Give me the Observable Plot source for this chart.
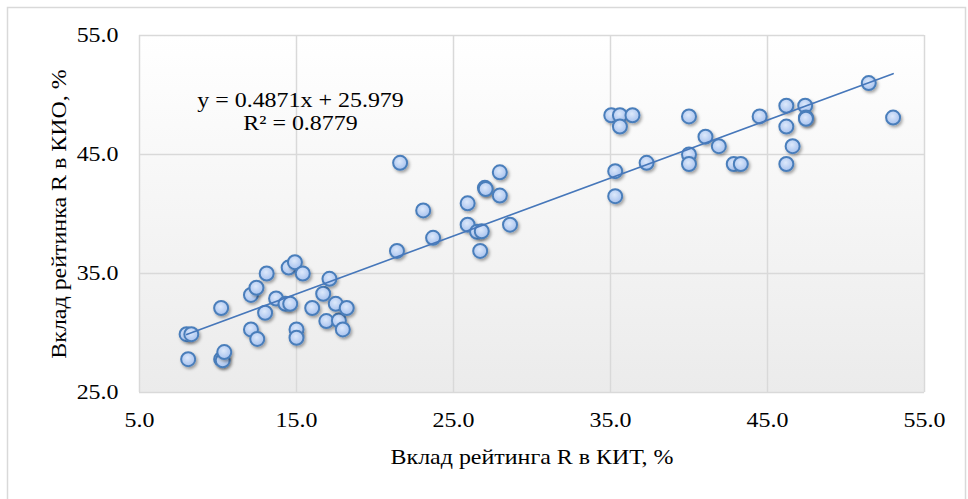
<!DOCTYPE html>
<html>
<head>
<meta charset="utf-8">
<script src="https://cdn.jsdelivr.net/npm/d3@7"></script>
<script src="https://cdn.jsdelivr.net/npm/@observablehq/plot@0.6"></script>
<style>
  html, body { margin: 0; padding: 0; background: #fff; }
  #chart svg { display: block; }
</style>
</head>
<body>
<div id="chart"></div>
<script>
// Contribution of rating R to KIT, % (x)
const kitValues = [
  8.0, 8.3, 8.1, 10.2, 10.3, 10.4, 10.2, 12.1, 12.45, 13.1,
  13.0, 12.1, 12.5, 13.7, 14.3, 14.6, 14.5, 14.9, 15.4, 15.0,
  15.0, 16.0, 16.7, 17.1, 16.9, 17.7, 17.95, 17.5, 18.2,
  21.6, 23.07, 21.4, 23.7, 27.95, 27.0, 27.05, 27.95, 25.9, 25.9,
  28.6, 26.5, 26.8, 26.7,
  35.05, 35.6, 36.4, 35.6, 40.0, 44.5, 41.05, 41.9, 40.0, 40.0,
  42.85, 43.3, 37.3, 35.3, 35.3, 46.2, 47.4, 47.45, 47.45, 46.2,
  46.6, 46.2, 51.45, 53.0
];
// Contribution of rating R to KIO, % (y)
const kioValues = [
  29.9, 29.9, 27.8, 27.8, 27.7, 28.4, 32.1, 33.2, 33.8, 35.0,
  31.7, 30.3, 29.5, 32.9, 32.45, 32.45, 35.5, 35.95, 35.0, 30.3,
  29.6, 32.1, 33.3, 34.55, 31.0, 31.05, 30.3, 32.45, 32.1,
  44.3, 40.3, 36.9, 38.0, 43.5, 42.2, 42.1, 41.55, 40.9, 39.1,
  39.1, 38.5, 38.55, 36.9,
  48.3, 48.3, 48.3, 47.35, 48.2, 48.2, 46.5, 45.7, 45.0, 44.2,
  44.2, 44.2, 44.3, 43.6, 41.5, 49.1, 49.1, 48.1, 48.0, 47.35,
  45.7, 44.2, 51.0, 48.1
];
const tickValues = [5, 15, 25, 35, 45, 55];
const yTickValues = [25, 35, 45, 55];
const trendSlope = 0.4871;
const trendIntercept = 25.979;
const trendRange = [8.0, 53.0];
const rSquared = 0.8779;
const xTitle = "Вклад рейтинга R в КИТ, %";
const yTitle = "Вклад рейтинка R в КИО, %";

const points = kitValues.map((x, i) => ({x, y: kioValues[i]}));
const trend = trendRange.map(x => ({x, y: trendSlope * x + trendIntercept}));
const eqText = `y = ${trendSlope}x + ${trendIntercept}\nR² = ${rSquared}`;

const FONT = "'Liberation Serif', 'Times New Roman', serif";
const fmt = d3.format(".1f");

const outerBorder = (index, scales, values, dims) => {
  const g = d3.create("svg:g");
  g.append("rect")
    .attr("x", 7.5).attr("y", 7.5)
    .attr("width", dims.width - 10).attr("height", dims.height + 10)
    .attr("fill", "none").attr("stroke", "#d9d9d9").attr("stroke-width", 1.5);
  return g.node();
};

const chart = Plot.plot({
  width: 968,
  height: 499,
  marginLeft: 139,
  marginRight: 44,
  marginTop: 35,
  marginBottom: 107,
  style: {fontFamily: FONT, fontSize: "21px", color: "#000", background: "#fff"},
  x: {domain: [5, 55]},
  y: {domain: [25, 55]},
  marks: [
    outerBorder,
    Plot.frame({fill: "url(#bgGrad)", stroke: null}),
    Plot.gridX(tickValues, {stroke: "#d9d9d9", strokeOpacity: 1, strokeWidth: 1.5}),
    Plot.gridY(yTickValues, {stroke: "#d9d9d9", strokeOpacity: 1, strokeWidth: 1.5}),
    Plot.axisX(tickValues, {tickSize: 0, tickPadding: 20, fontSize: 21, tickFormat: fmt, label: null, fill: "#000"}),
    Plot.axisY(yTickValues, {tickSize: 0, tickPadding: 21, fontSize: 21, tickFormat: fmt, label: null, fill: "#000"}),
    Plot.text([xTitle], {frameAnchor: "bottom", lineAnchor: "middle", dy: 65, fontSize: 21, text: d => d, fill: "#000"}),
    Plot.text([yTitle], {frameAnchor: "left", textAnchor: "middle", lineAnchor: "middle", dx: -80, rotate: -90, fontSize: 21, text: d => d, fill: "#000"}),
    Plot.dot(points, {x: "x", y: "y", r: 7, fill: "url(#ptGrad)", stroke: "#4a7ebb", strokeWidth: 2}),
    Plot.line(trend, {x: "x", y: "y", stroke: "#4677ba", strokeWidth: 1.6}),
    Plot.text([eqText], {frameAnchor: "top-left", lineAnchor: "top", dx: 161, dy: 55, fontSize: 21, lineHeight: 1.1, textAnchor: "middle", text: d => d, fill: "#000"})
  ]
});

const svg = d3.select(chart);
const defs = svg.insert("defs", ":first-child");
const bg = defs.append("linearGradient").attr("id", "bgGrad")
  .attr("x1", 0).attr("y1", 0).attr("x2", 0).attr("y2", 1);
bg.append("stop").attr("offset", "0%").attr("stop-color", "#ffffff");
bg.append("stop").attr("offset", "100%").attr("stop-color", "#ebebeb");
const pg = defs.append("radialGradient").attr("id", "ptGrad")
  .attr("cx", "45%").attr("cy", "40%").attr("r", "60%");
pg.append("stop").attr("offset", "0%").attr("stop-color", "#dde9fb");
pg.append("stop").attr("offset", "100%").attr("stop-color", "#a6c1ee");
const f = defs.append("filter").attr("id", "shadow")
  .attr("x", "-50%").attr("y", "-50%").attr("width", "200%").attr("height", "200%");
f.append("feDropShadow").attr("dx", 1.5).attr("dy", 2).attr("stdDeviation", 1.5)
  .attr("flood-color", "#000").attr("flood-opacity", 0.35);
svg.selectAll("circle").attr("filter", "url(#shadow)");

document.getElementById("chart").appendChild(chart);

// The reference's serif text is set slightly wider than Liberation Serif; stretch it horizontally.
const STRETCH = 1.14;
function stretch(el) {
  const L = el.getComputedTextLength();
  if (L > 0) {
    el.setAttribute("textLength", (L * STRETCH).toFixed(2));
    el.setAttribute("lengthAdjust", "spacingAndGlyphs");
  }
}
svg.selectAll("text").each(function () {
  const tspans = this.querySelectorAll("tspan");
  if (tspans.length) tspans.forEach(stretch); else stretch(this);
});
</script>
</body>
</html>
